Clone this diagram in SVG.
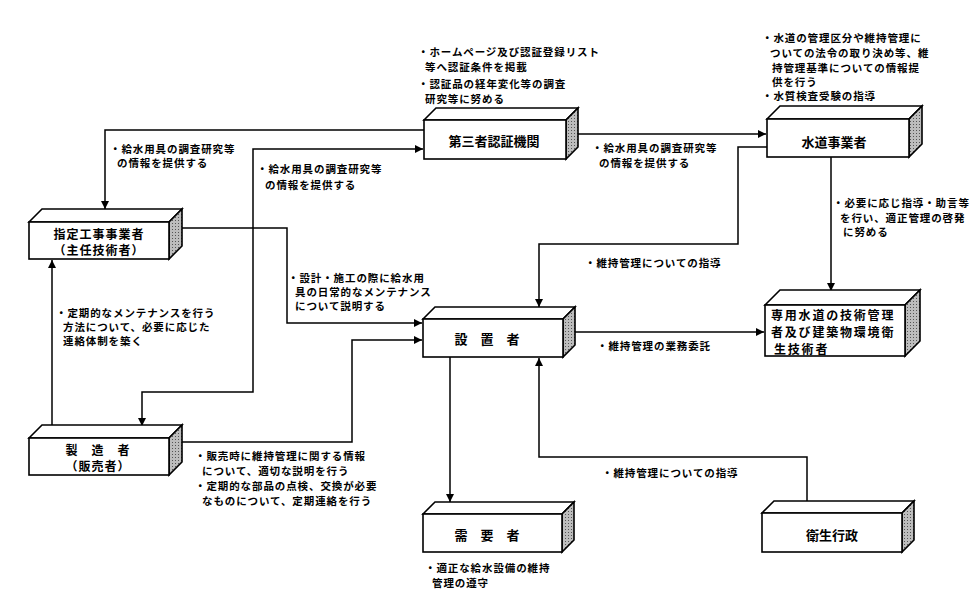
<svg xmlns="http://www.w3.org/2000/svg" width="978" height="606" viewBox="0 0 978 606">
<style>
  .face{fill:#fff;stroke:#000;stroke-width:1.6;stroke-linejoin:miter}
  .side{fill:url(#stip);stroke:#000;stroke-width:1.6}
  .lbl{font-family:"Noto Sans CJK JP","Noto Sans CJK SC",sans-serif;font-weight:bold;font-size:13px;fill:#000;text-anchor:middle;dominant-baseline:central}
  .lbl2{font-family:"Noto Sans CJK JP","Noto Sans CJK SC",sans-serif;font-weight:bold;font-size:12px;letter-spacing:1px;fill:#000;text-anchor:middle;dominant-baseline:central}
  .lbl3{font-family:"Noto Sans CJK JP","Noto Sans CJK SC",sans-serif;font-weight:bold;font-size:12px;letter-spacing:1.8px;fill:#000;dominant-baseline:central}
  .note{font-family:"Noto Sans CJK JP","Noto Sans CJK SC",sans-serif;font-weight:bold;font-size:10.5px;letter-spacing:0.9px;fill:#000;dominant-baseline:central}
  .con{fill:none;stroke:#000;stroke-width:1.5}
</style>
<defs>
  <pattern id="stip" width="3" height="3" patternUnits="userSpaceOnUse">
    <rect width="3" height="3" fill="#bdbdbd"/>
    <rect x="1" y="1" width="1" height="1" fill="#555"/>
  </pattern>
  <marker id="ah" viewBox="0 0 10 10" refX="10" refY="5" markerWidth="9" markerHeight="8" markerUnits="userSpaceOnUse" orient="auto-start-reverse">
    <path d="M0,0 L10,5 L0,10 z" fill="#000"/>
  </marker>
</defs>
<rect width="978" height="606" fill="#fff"/>

<g id="connectors">
  <path class="con" d="M424,130 H105 V209" marker-end="url(#ah)"/>
  <path class="con" d="M142,426 V392 H253 V149 H423" marker-start="url(#ah)" marker-end="url(#ah)"/>
  <path class="con" d="M571,134 H766" marker-end="url(#ah)"/>
  <path class="con" d="M767,147 H738 V244 H539 V307" marker-end="url(#ah)"/>
  <path class="con" d="M831,157 V291" marker-end="url(#ah)"/>
  <path class="con" d="M176,228 H287 V323 H422" marker-end="url(#ah)"/>
  <path class="con" d="M176,442 H352 V340 H422" marker-end="url(#ah)"/>
  <path class="con" d="M570,332 H764" marker-end="url(#ah)"/>
  <path class="con" d="M450,357 V502" marker-end="url(#ah)"/>
  <path class="con" d="M807,507 V457 H539 V358" marker-end="url(#ah)"/>
  <path class="con" d="M52,432 V260" marker-end="url(#ah)"/>
</g>

<g id="node-daisansha">
  <polygon class="face" points="424,120 436,108 578,108 566,120"/>
  <polygon class="side" points="566,120 578,108 578,147 566,159"/>
  <rect class="face" x="424" y="120" width="142" height="39"/>
  <text class="lbl" x="494" y="140">第三者認証機関</text>
</g>

<g id="node-suido">
  <polygon class="face" points="767,119 780,106 922,106 909,119"/>
  <polygon class="side" points="909,119 922,106 922,144 909,157"/>
  <rect class="face" x="767" y="119" width="142" height="38"/>
  <text class="lbl" x="834" y="141">水道事業者</text>
</g>

<g id="node-shitei">
  <polygon class="face" points="29,222 42,209 182,209 169,222"/>
  <polygon class="side" points="169,222 182,209 182,246 169,259"/>
  <rect class="face" x="29" y="222" width="140" height="37"/>
  <text class="lbl2" x="99" y="233">指定工事事業者</text>
  <text class="lbl2" x="99" y="249">（主任技術者）</text>
</g>

<g id="node-setchi">
  <polygon class="face" points="423,319 435,307 575,307 563,319"/>
  <polygon class="side" points="563,319 575,307 575,345 563,357"/>
  <rect class="face" x="423" y="319" width="140" height="38"/>
  <text class="lbl" x="487" y="338">設　置　者</text>
</g>

<g id="node-senyo">
  <polygon class="face" points="765,305 780,290 920,290 905,305"/>
  <polygon class="side" points="905,305 920,290 920,341 905,356"/>
  <rect class="face" x="765" y="305" width="140" height="51"/>
  <text class="lbl3" x="771" y="314">専用水道の技術管理</text>
  <text class="lbl3" x="771" y="331">者及び建築物環境衛</text>
  <text class="lbl3" x="774" y="348">生技術者</text>
</g>

<g id="node-seizo">
  <polygon class="face" points="29,438 42,425 182,425 169,438"/>
  <polygon class="side" points="169,438 182,425 182,462 169,475"/>
  <rect class="face" x="29" y="438" width="140" height="37"/>
  <text class="lbl2" x="98" y="449">製　造　者</text>
  <text class="lbl2" x="98" y="465">（販売者）</text>
</g>

<g id="node-juyo">
  <polygon class="face" points="423,514 435,502 574,502 562,514"/>
  <polygon class="side" points="562,514 574,502 574,540 562,552"/>
  <rect class="face" x="423" y="514" width="139" height="38"/>
  <text class="lbl" x="487" y="534">需　要　者</text>
</g>

<g id="node-eisei">
  <polygon class="face" points="762,513 774,501 914,501 902,513"/>
  <polygon class="side" points="902,513 914,501 914,540 902,552"/>
  <rect class="face" x="762" y="513" width="140" height="39"/>
  <text class="lbl" x="832" y="534">衛生行政</text>
</g>

<g id="labels">
  <text class="note" x="418" y="51">・ホームページ及び認証登録リスト</text>
  <text class="note" x="425" y="66">等へ認証条件を掲載</text>
  <text class="note" x="418" y="83">・認証品の経年変化等の調査</text>
  <text class="note" x="425" y="98">研究等に努める</text>

  <text class="note" x="762" y="37">・水道の管理区分や維持管理に</text>
  <text class="note" x="770" y="52">ついての法令の取り決め等、維</text>
  <text class="note" x="772" y="67">持管理基準についての情報提</text>
  <text class="note" x="772" y="81">供を行う</text>
  <text class="note" x="762" y="95">・水質検査受験の指導</text>

  <text class="note" x="110" y="148">・給水用具の調査研究等</text>
  <text class="note" x="117" y="162">の情報を提供する</text>

  <text class="note" x="257" y="168">・給水用具の調査研究等</text>
  <text class="note" x="265" y="184">の情報を提供する</text>

  <text class="note" x="592" y="147">・給水用具の調査研究等</text>
  <text class="note" x="599" y="162">の情報を提供する</text>

  <text class="note" x="833" y="202">・必要に応じ指導・助言等</text>
  <text class="note" x="840" y="217">を行い、適正管理の啓発</text>
  <text class="note" x="843" y="231">に努める</text>

  <text class="note" x="585" y="262">・維持管理についての指導</text>

  <text class="note" x="288" y="277">・設計・施工の際に給水用</text>
  <text class="note" x="295" y="291">具の日常的なメンテナンス</text>
  <text class="note" x="295" y="305">について説明する</text>

  <text class="note" x="56" y="312">・定期的なメンテナンスを行う</text>
  <text class="note" x="63" y="326">方法について、必要に応じた</text>
  <text class="note" x="63" y="340">連絡体制を築く</text>

  <text class="note" x="597" y="345">・維持管理の業務委託</text>

  <text class="note" x="195" y="455">・販売時に維持管理に関する情報</text>
  <text class="note" x="202" y="470">について、適切な説明を行う</text>
  <text class="note" x="195" y="485">・定期的な部品の点検、交換が必要</text>
  <text class="note" x="202" y="500">なものについて、定期連絡を行う</text>

  <text class="note" x="602" y="472">・維持管理についての指導</text>

  <text class="note" x="425" y="567">・適正な給水設備の維持</text>
  <text class="note" x="432" y="582">管理の遵守</text>
</g>
</svg>
